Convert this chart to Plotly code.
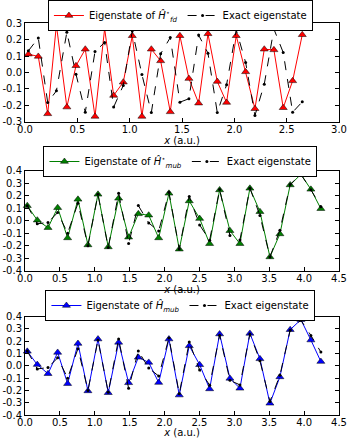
import plotly.graph_objects as go

# panel 1: finite-difference eigenstate vs exact
x_fd = [0.032, 0.127, 0.217, 0.300, 0.400, 0.487, 0.576, 0.669, 0.761, 0.847,
        0.939, 1.025, 1.117, 1.207, 1.296, 1.388, 1.480, 1.566, 1.659, 1.748,
        1.837, 1.926, 2.018, 2.108, 2.197, 2.286, 2.378, 2.467, 2.557, 2.649]
fd_state = [0.112, 0.098, -0.252, 0.290, -0.211, 0.041, 0.142, -0.268, 0.268, -0.140,
            -0.059, 0.224, -0.268, 0.142, 0.071, -0.240, 0.224, -0.037, -0.187, 0.236,
            -0.055, -0.183, 0.224, 0.004, -0.221, 0.142, 0.138, -0.215, -0.051, 0.230]
fd_exact = [0.132, 0.210, -0.183, -0.112, 0.246, -0.010, -0.242, 0.128, 0.183, -0.211,
            -0.079, 0.254, -0.012, -0.244, 0.114, 0.213, -0.181, -0.160, 0.228, 0.118,
            -0.244, -0.075, 0.260, 0.061, -0.262, -0.071, 0.265, 0.122, -0.242, -0.179]

# panels 2 and 3: mub eigenstates vs exact
x_mub = [0.033, 0.176, 0.330, 0.468, 0.611, 0.759, 0.902, 1.046, 1.193, 1.342,
         1.485, 1.624, 1.773, 1.916, 2.063, 2.211, 2.354, 2.503, 2.646, 2.789,
         2.937, 3.080, 3.223, 3.367, 3.510, 3.653, 3.800, 3.954, 4.097, 4.240]
mub_star_state = [0.120, 0.004, -0.056, 0.104, -0.138, 0.171, -0.194, 0.211, -0.210, 0.179,
                  -0.132, 0.055, 0.044, -0.138, 0.219, -0.228, 0.158, 0.017, -0.184, 0.246,
                  -0.080, -0.184, 0.259, 0.072, -0.290, -0.106, 0.286, 0.371, 0.251, 0.096]
mub_state = [0.118, 0.010, -0.064, 0.109, -0.145, 0.182, -0.204, 0.218, -0.219, 0.191,
             -0.138, 0.069, 0.028, -0.136, 0.218, -0.238, 0.163, 0.009, -0.188, 0.259,
             -0.102, -0.183, 0.264, 0.057, -0.305, -0.090, 0.294, 0.376, 0.210, 0.035]
mub_exact = [0.120, -0.025, -0.014, 0.065, -0.100, 0.140, -0.200, 0.211, -0.215, 0.219,
             -0.183, 0.121, -0.018, -0.083, 0.227, -0.227, 0.194, -0.034, -0.157, 0.250,
             -0.118, -0.155, 0.260, 0.042, -0.290, -0.077, 0.290, 0.371, 0.248, 0.112]

# tick labels (plain hyphen, like the original)
x_ticks_fd = ["0.0", "0.5", "1.0", "1.5", "2.0", "2.5", "3.0"]
x_ticks_mub = ["0.0", "0.5", "1.0", "1.5", "2.0", "2.5", "3.0", "3.5", "4.0", "4.5"]
y_ticks_fd = ["-0.3", "-0.2", "-0.1", "0.0", "0.1", "0.2", "0.3"]
y_ticks_mub = ["-0.4", "-0.3", "-0.2", "-0.1", "0.0", "0.1", "0.2", "0.3", "0.4"]

FONT = "DejaVu Sans"
W, H = 349, 438

panels = [
    dict(x=x_fd, y=fd_state, ex=fd_exact, color="#ff0000",
         name="Eigenstate of <i>Ĥ</i><sup>⋆</sup><sub><i>fd</i></sub>",
         top=23.3, bottom=121.7, xt=x_ticks_fd, yt=y_ticks_fd, leg_y=15.5),
    dict(x=x_mub, y=mub_star_state, ex=mub_exact, color="#008000",
         name="Eigenstate of <i>Ĥ</i><sup>⋆</sup><sub><i>mub</i></sub>",
         top=170.7, bottom=270.7, xt=x_ticks_mub, yt=y_ticks_mub, leg_y=161.5),
    dict(x=x_mub, y=mub_state, ex=mub_exact, color="#0000ff",
         name="Eigenstate of <i>Ĥ</i><sub><i>mub</i></sub>",
         top=316.7, bottom=415.0, xt=x_ticks_mub, yt=y_ticks_mub, leg_y=305.5),
]

fig = go.Figure()
layout = {}

for i, p in enumerate(panels):
    n = i + 1
    sfx = "" if n == 1 else str(n)
    leg = "legend" + sfx
    fig.add_trace(go.Scatter(
        x=p["x"], y=p["y"], mode="lines+markers", name=p["name"],
        line=dict(color=p["color"], width=1),
        marker=dict(symbol="triangle-up", size=7, color=p["color"],
                    line=dict(color="black", width=0.5)),
        xaxis="x" + sfx, yaxis="y" + sfx, legend=leg, cliponaxis=False,
    ))
    fig.add_trace(go.Scatter(
        x=p["x"], y=p["ex"], mode="lines+markers", name="Exact eigenstate",
        line=dict(color="black", width=1, dash="dash"),
        marker=dict(symbol="circle", size=3, color="black"),
        xaxis="x" + sfx, yaxis="y" + sfx, legend=leg, cliponaxis=False,
    ))

    xvals = [float(t) for t in p["xt"]]
    yvals = [float(t) for t in p["yt"]]
    axis_common = dict(showline=True, linecolor="black", linewidth=1, mirror="allticks",
                       ticks="inside", ticklen=4, tickcolor="black", showgrid=False,
                       zeroline=False, tickfont=dict(family=FONT, size=10, color="black"),
                       automargin=False)
    layout["xaxis" + sfx] = dict(
        axis_common, range=[xvals[0], xvals[-1]], tickvals=xvals, ticktext=p["xt"],
        anchor="y" + sfx, domain=[0, 1], ticklabelstandoff=-2,
        title=dict(text="<i>x</i> (a.u.)", font=dict(family=FONT, size=10, color="black"),
                   standoff=3),
    )
    layout["yaxis" + sfx] = dict(
        axis_common, range=[yvals[0], yvals[-1]], tickvals=yvals, ticktext=p["yt"],
        anchor="x" + sfx, domain=[1 - p["bottom"] / H, 1 - p["top"] / H],
    )
    layout[leg] = dict(
        orientation="h", x=0.495, xanchor="center", y=1 - p["leg_y"] / H, yanchor="middle",
        bgcolor="white", bordercolor="black", borderwidth=1,
        font=dict(family=FONT, size=10, color="black"),
        itemwidth=30, tracegroupgap=0,
    )

fig.update_layout(
    **layout,
    width=W, height=H,
    margin=dict(l=25, r=10, t=0, b=0, autoexpand=False),
    paper_bgcolor="white", plot_bgcolor="white",
    font=dict(family=FONT, size=10, color="black"),
    showlegend=True,
)

fig.write_html("out.html", config={"displayModeBar": False},
               post_script="document.body.style.margin='0px';")
